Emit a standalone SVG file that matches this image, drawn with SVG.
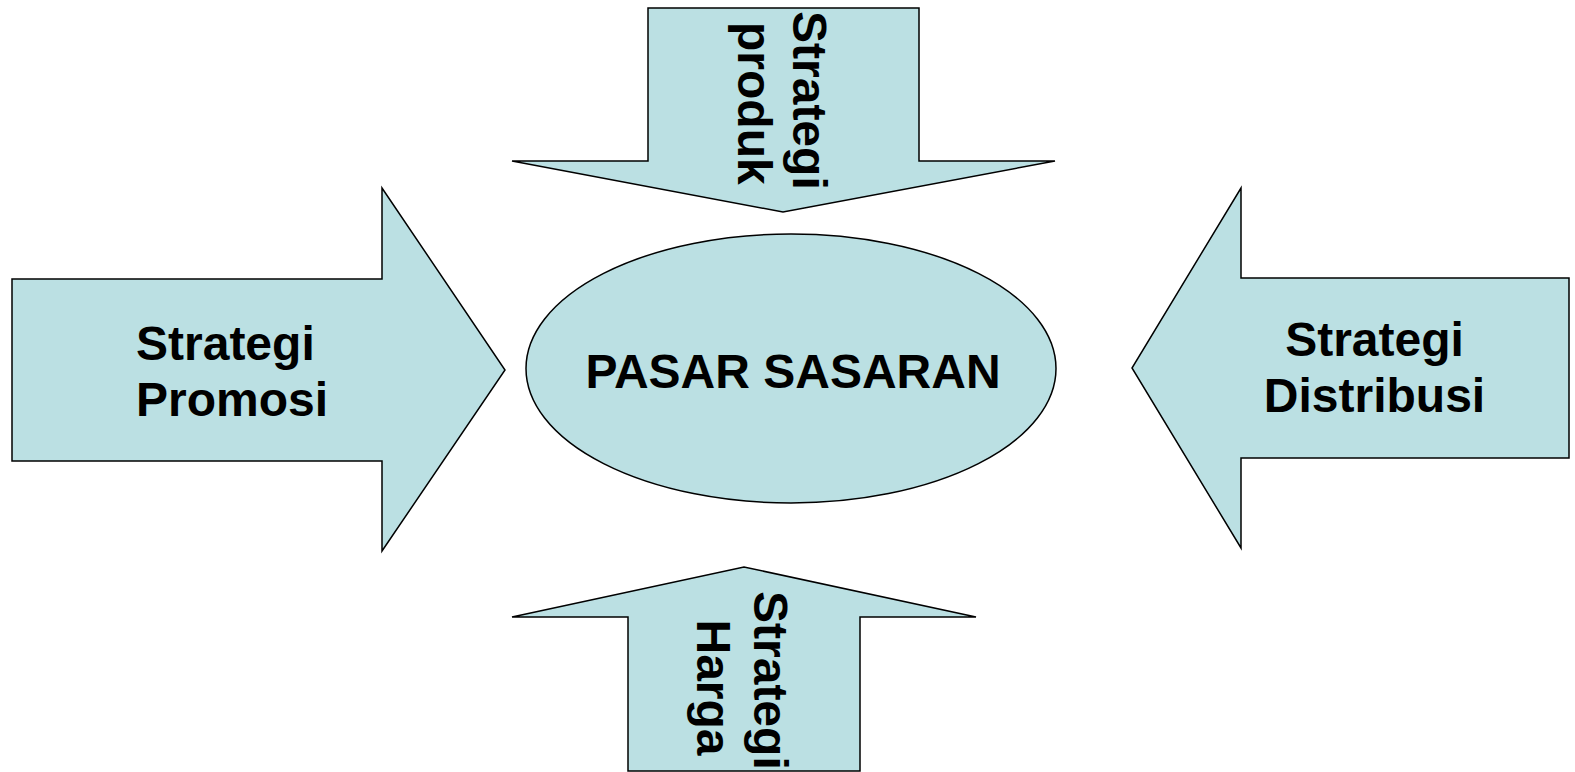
<svg xmlns="http://www.w3.org/2000/svg" width="1575" height="772" viewBox="0 0 1575 772">
  <style>
    .shape { fill: #BBE0E3; stroke: #000000; stroke-width: 1.5; stroke-linejoin: miter; }
    .label { font-family: "Liberation Sans", Arial, sans-serif; font-weight: bold; font-size: 48px; fill: #000000; }
  </style>
  <rect x="0" y="0" width="1575" height="772" fill="#FFFFFF"/>

  <!-- block arrows pointing at the centre -->
  <g id="connectors">
    <g id="arrow-produk">
      <polygon class="shape" points="648,8 919,8 919,161 1055,161 783,212 512,161 648,161"/>
      <text class="label" transform="translate(793,11) rotate(90)">Strategi</text>
      <text class="label" transform="translate(738,22) rotate(90)">produk</text>
    </g>
    <g id="arrow-promosi">
      <polygon class="shape" points="12,279 382,279 382,188 505,370 382,551 382,461 12,461"/>
      <text class="label" x="136" y="360">Strategi</text>
      <text class="label" x="136" y="416">Promosi</text>
    </g>
    <g id="arrow-distribusi">
      <polygon class="shape" points="1569,278 1241,278 1241,188 1132,368 1241,548 1241,458 1569,458"/>
      <text class="label" x="1374.5" y="356" text-anchor="middle">Strategi</text>
      <text class="label" x="1374.5" y="412" text-anchor="middle">Distribusi</text>
    </g>
    <g id="arrow-harga">
      <polygon class="shape" points="628,771 628,617 512,617 744,567 976,617 860,617 860,771"/>
      <text class="label" transform="translate(754,591) rotate(90)">Strategi</text>
      <text class="label" transform="translate(697,619.5) rotate(90)">Harga</text>
    </g>
  </g>

  <!-- central target market -->
  <g id="pasar-sasaran">
    <ellipse class="shape" cx="791" cy="368.5" rx="265" ry="134.5"/>
    <text class="label" x="793" y="388" text-anchor="middle">PASAR SASARAN</text>
  </g>
</svg>
